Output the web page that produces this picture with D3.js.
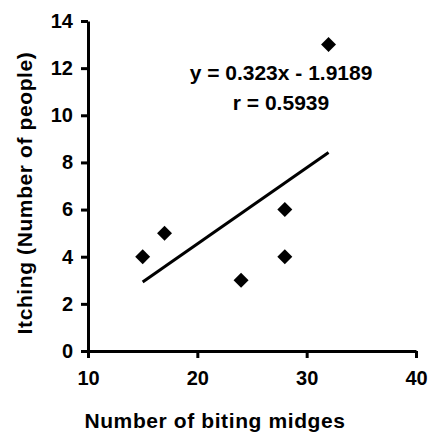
<!DOCTYPE html>
<html>
<head>
<meta charset="utf-8">
<script src="https://cdn.jsdelivr.net/npm/d3@7"></script>
<style>
  body { margin: 0; background: #fff; }
  text { font-family: "Liberation Sans", Arial, sans-serif; font-weight: bold; fill: #000; }
</style>
</head>
<body>
<script>
// chart size
var w = 429;
var h = 432;

var pad = { top: 21, bottom: 81, left: 88, right: 13 };

// data
var midges = [15, 17, 24, 28, 28, 32];
var itching = [4, 5, 3, 4, 6, 13];

var xTicks = [10, 20, 30, 40];
var yTicks = [0, 2, 4, 6, 8, 10, 12, 14];

// regression line (as printed in chart)
var slope = 0.323;
var intercept = -1.9189;
var fitRange = [15, 32];
var eqLabels = ["y = 0.323x - 1.9189", "r = 0.5939"];

var points = midges.map(function(d, i) {
  return { x: d, y: itching[i] };
});

var svg = d3.select("body")
            .append("svg")
            .attr("width", w)
            .attr("height", h);

var xScale = d3.scaleLinear()
               .domain([10, 40])
               .range([pad.left, w - pad.right]);

var yScale = d3.scaleLinear()
               .domain([0, 14])
               .range([h - pad.bottom, pad.top]);

// x axis
var xAxis = svg.append("g")
   .attr("transform", "translate(0," + (h - pad.bottom) + ")")
   .call(d3.axisBottom(xScale).tickValues(xTicks).tickSize(7).tickSizeOuter(0).tickPadding(13));

// y axis
var yAxis = svg.append("g")
   .attr("transform", "translate(" + pad.left + ",0)")
   .call(d3.axisLeft(yScale).tickValues(yTicks).tickSize(7).tickSizeOuter(0).tickPadding(8));

[xAxis, yAxis].forEach(function(a) {
  a.select(".domain").attr("stroke", "#000").attr("stroke-width", 3);
  a.selectAll(".tick line").attr("stroke", "#000").attr("stroke-width", 3);
  a.selectAll(".tick text")
   .style("font-family", "'Liberation Sans', Arial, sans-serif")
   .style("font-weight", "bold")
   .style("font-size", "20px")
   .attr("fill", "#000");
});

// regression line
svg.append("line")
   .attr("x1", xScale(fitRange[0]))
   .attr("y1", yScale(slope * fitRange[0] + intercept))
   .attr("x2", xScale(fitRange[1]))
   .attr("y2", yScale(slope * fitRange[1] + intercept))
   .attr("stroke", "#000")
   .attr("stroke-width", 3);

// diamond markers
svg.selectAll(".pt")
   .data(points)
   .enter()
   .append("path")
   .attr("class", "pt")
   .attr("d", d3.symbol().type(d3.symbolSquare).size(112))
   .attr("transform", function(d) {
     return "translate(" + xScale(d.x) + "," + yScale(d.y) + ") rotate(45)";
   })
   .attr("fill", "#000");

// equation text
svg.selectAll(".eq")
   .data(eqLabels)
   .enter()
   .append("text")
   .attr("class", "eq")
   .attr("x", 281)
   .attr("y", function(d, i) { return 80 + i * 30; })
   .attr("text-anchor", "middle")
   .style("font-size", "21px")
   .text(function(d) { return d; });

// x label
svg.append("text")
   .attr("x", 215)
   .attr("y", 428)
   .attr("text-anchor", "middle")
   .style("font-size", "21px")
   .style("letter-spacing", "0.6px")
   .text("Number of biting midges");

// y label
svg.append("text")
   .attr("transform", "translate(32,193) rotate(-90)")
   .attr("text-anchor", "middle")
   .style("font-size", "21px")
   .style("letter-spacing", "0.6px")
   .text("Itching (Number of people)");
</script>
</body>
</html>
